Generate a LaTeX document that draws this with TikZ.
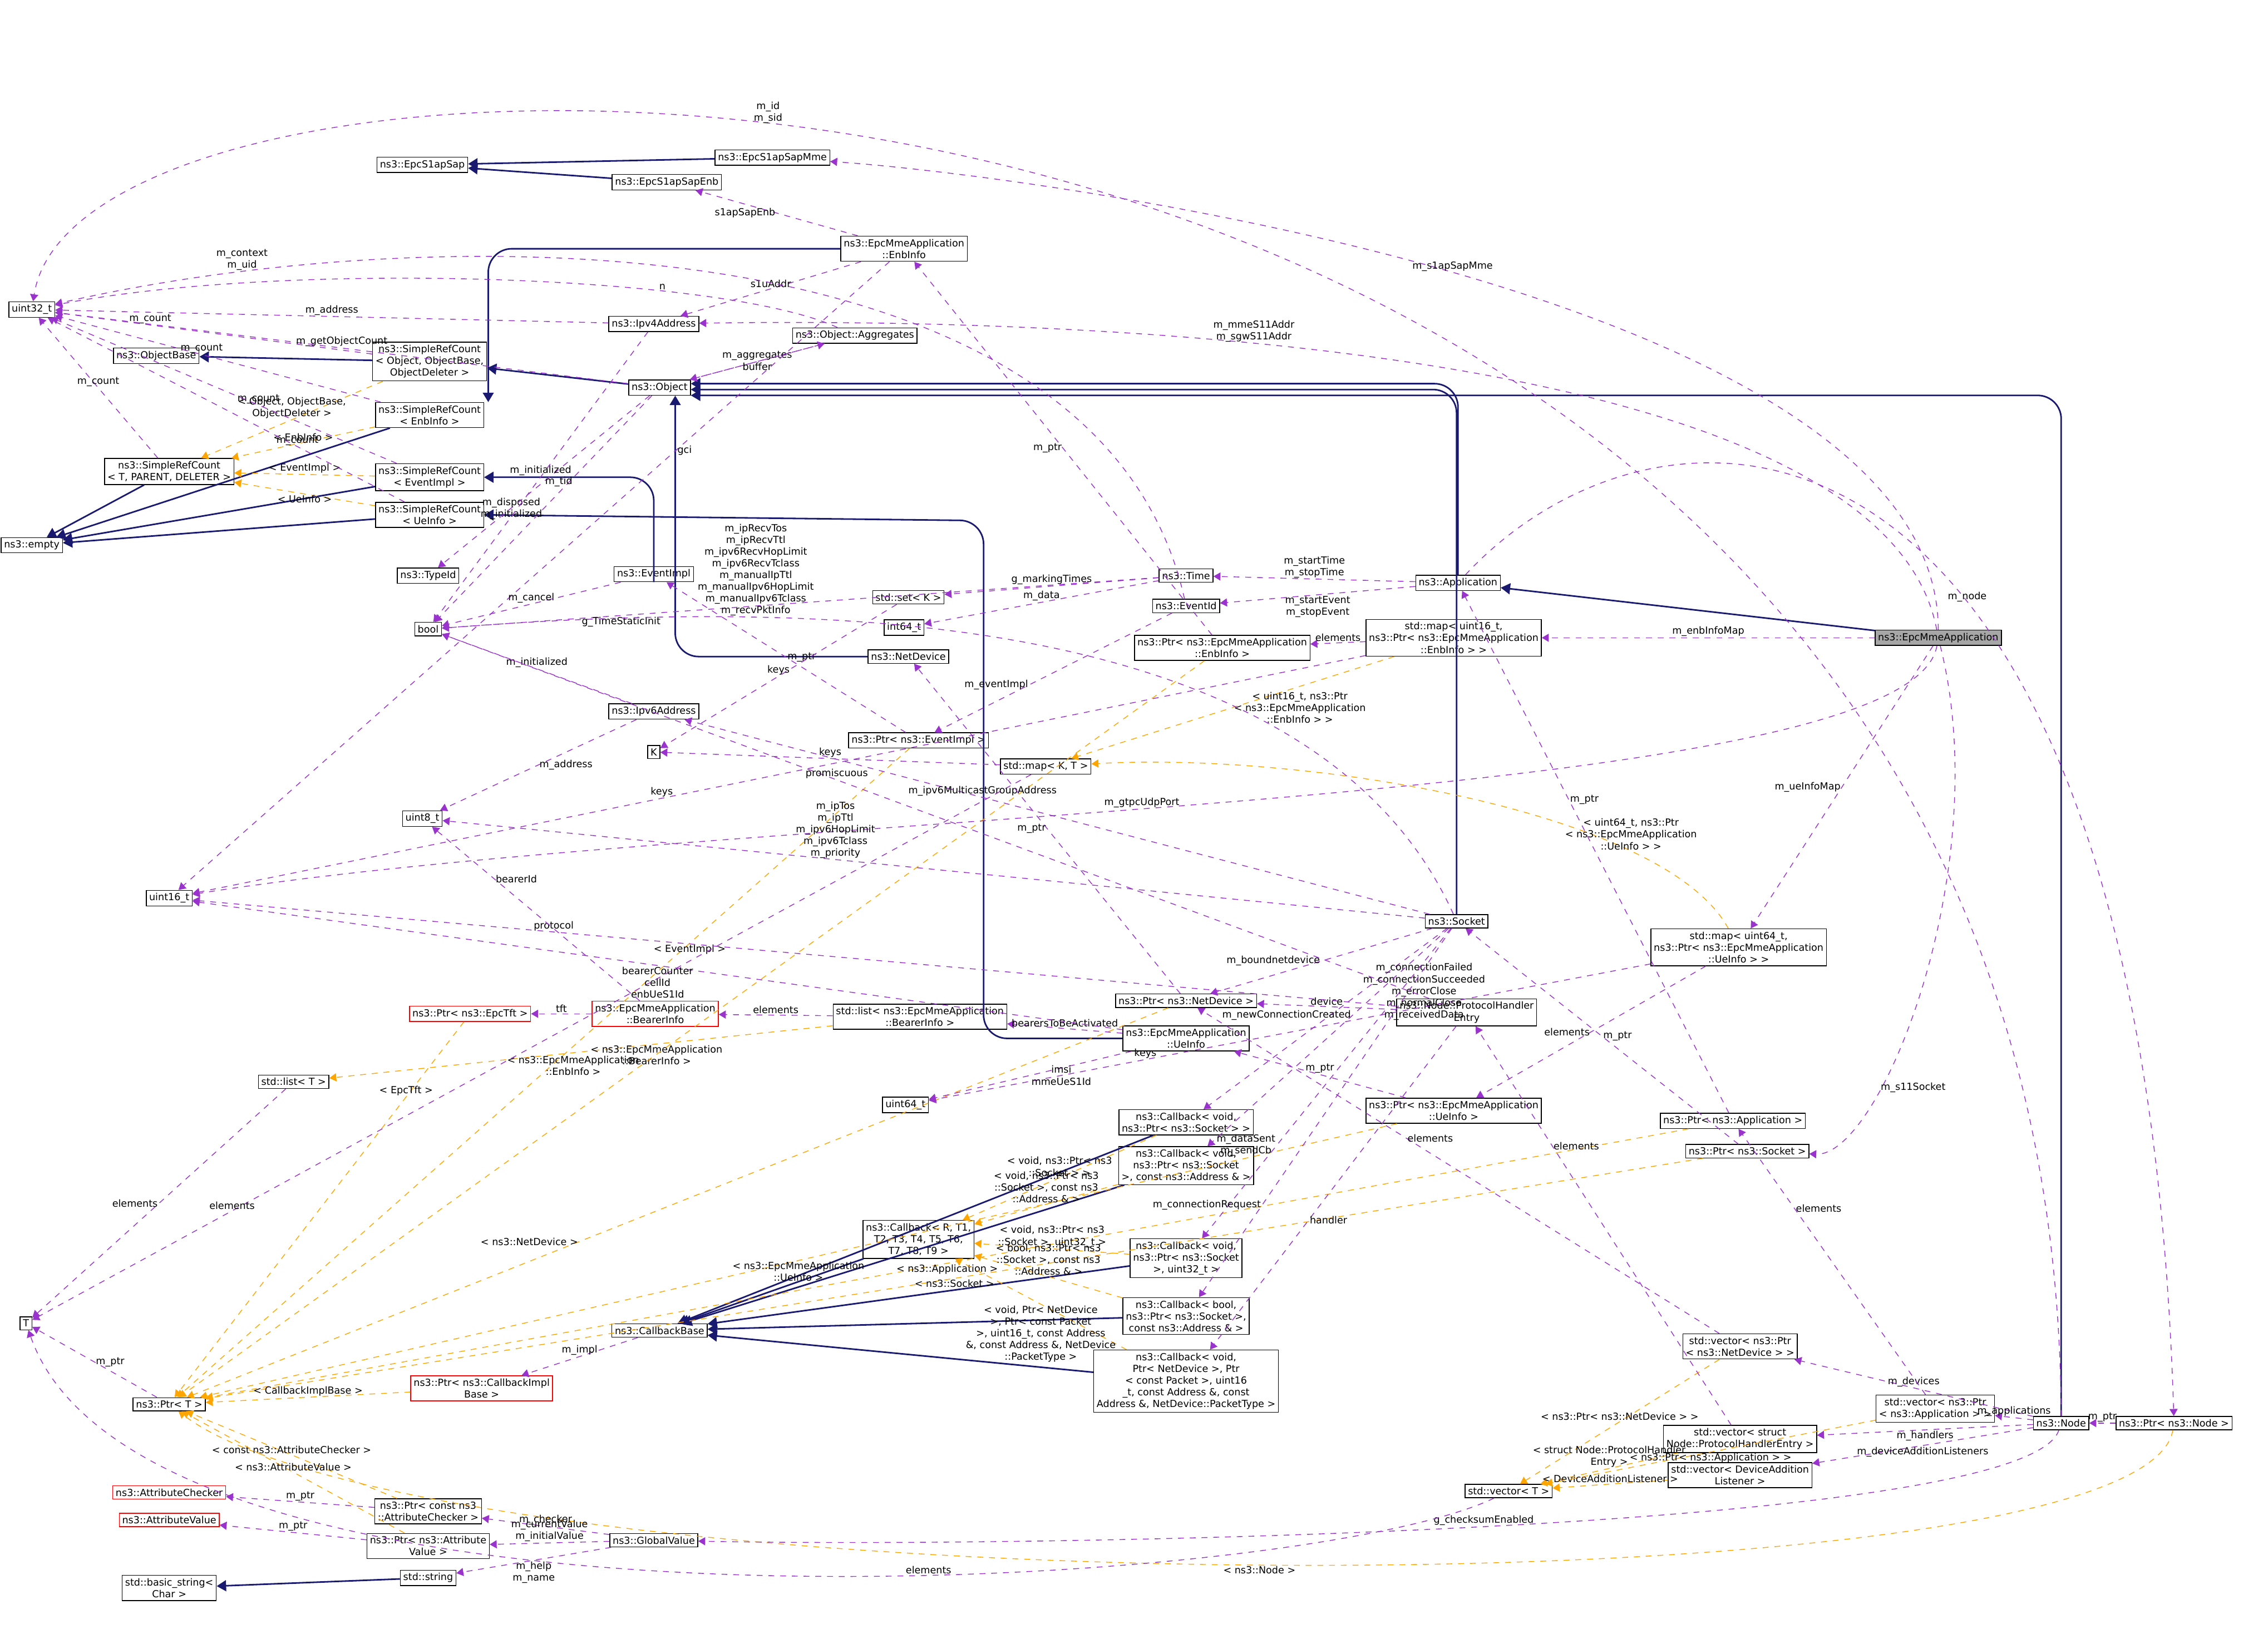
\documentclass[tikz,border=0pt]{standalone}
\usepackage{fontspec}
\setmainfont{DejaVu Sans}
\usetikzlibrary{arrows.meta}
\definecolor{usecol}{HTML}{9A32CD}
\definecolor{tplcol}{HTML}{FFA500}
\definecolor{inhcol}{HTML}{191970}

\begin{document}
\begin{tikzpicture}[x=0.026cm,y=-0.026cm,
  cls/.style={draw,fill=white,font=\fontsize{5}{6}\selectfont,align=center,inner sep=1.5pt},
  redcls/.style={cls,draw=red},
  inh/.style={draw=inhcol,thick,rounded corners=12pt,-{Triangle[open,fill=inhcol]}},
  use/.style={draw=usecol,dashed,-{Triangle[fill=usecol]}},
  tpl/.style={draw=tplcol,dashed,-{Triangle[fill=tplcol]}},
  lbl/.style={font=\fontsize{5}{6}\selectfont,align=center,inner sep=0.5pt,text=black}]
\useasboundingbox (0,0) rectangle (1568,1133);

%classes on the left side
\node[cls] (u32) at (22,214) {uint32\_t};
\node[cls] (objbase) at (108,246) {ns3::ObjectBase};
\node[cls] (srct) at (117,326) {ns3::SimpleRefCount\\< T, PARENT, DELETER >};
\node[cls] (empty) at (22,377) {ns3::empty};
\node[cls] (tt) at (18,915) {T};
\node[cls] (u16) at (117,621) {uint16\_t};
\node[cls] (ptrt) at (117,971) {ns3::Ptr< T >};
\node[redcls] (achk) at (117,1032) {ns3::AttributeChecker};
\node[redcls] (aval) at (117,1051) {ns3::AttributeValue};
\node[cls] (bstr) at (117,1098) {std::basic\_string<\\ Char >};
\node[cls] (srcobj) at (297,250) {ns3::SimpleRefCount\\< Object, ObjectBase,\\ ObjectDeleter >};
\node[cls] (srcenb) at (297,287) {ns3::SimpleRefCount\\< EnbInfo >};
\node[cls] (srcev) at (297,330) {ns3::SimpleRefCount\\< EventImpl >};
\node[cls] (srcue) at (297,356) {ns3::SimpleRefCount\\< UeInfo >};
\node[cls] (typeid) at (296,398) {ns3::TypeId};
\node[cls] (bool) at (296,435) {bool};
\node[cls] (u8) at (292,566) {uint8\_t};
\node[cls] (s1sap) at (292,114) {ns3::EpcS1apSap};
\node[redcls] (ptrtft) at (325,701) {ns3::Ptr< ns3::EpcTft >};
\node[cls] (listt) at (203,748) {std::list< T >};
\node[redcls] (ptrcib) at (333,960) {ns3::Ptr< ns3::CallbackImpl\\Base >};
\node[cls] (ptrachk) at (296,1045) {ns3::Ptr< const ns3\\::AttributeChecker >};
\node[cls] (ptraval) at (296,1069) {ns3::Ptr< ns3::Attribute\\Value >};
\node[cls] (str) at (296,1091) {std::string};

%middle
\node[cls] (s1enb) at (461,126) {ns3::EpcS1apSapEnb};
\node[cls] (s1mme) at (534,109) {ns3::EpcS1apSapMme};
\node[cls] (enbinfo) at (625,172) {ns3::EpcMmeApplication\\::EnbInfo};
\node[cls] (ipv4) at (452,224) {ns3::Ipv4Address};
\node[cls] (aggr) at (591,232) {ns3::Object::Aggregates};
\node[cls] (obj) at (456,268) {ns3::Object};
\node[cls] (evimpl) at (452,397) {ns3::EventImpl};
\node[cls] (ipv6) at (452,492) {ns3::Ipv6Address};
\node[cls] (kk) at (452,520) {K};
\node[redcls] (bearer) at (453,701) {ns3::EpcMmeApplication\\::BearerInfo};
\node[cls] (cbbase) at (456,920) {ns3::CallbackBase};
\node[cls] (gval) at (452,1065) {ns3::GlobalValue};
\node[cls] (setk) at (628,413) {std::set< K >};
\node[cls] (i64) at (625,434) {int64\_t};
\node[cls] (netdev) at (628,454) {ns3::NetDevice};
\node[cls] (ptrev) at (635,512) {ns3::Ptr< ns3::EventImpl >};
\node[cls] (mapkt) at (723,530) {std::map< K, T >};
\node[cls] (listbi) at (636,703) {std::list< ns3::EpcMmeApplication\\::BearerInfo >};
\node[cls] (u64) at (626,764) {uint64\_t};
\node[cls] (cbr) at (635,857) {ns3::Callback< R, T1,\\ T2, T3, T4, T5, T6,\\ T7, T8, T9 >};
\node[cls] (time) at (820,398) {ns3::Time};
\node[cls] (evid) at (820,419) {ns3::EventId};
\node[cls] (ptrenb) at (845,448) {ns3::Ptr< ns3::EpcMmeApplication\\::EnbInfo >};
\node[cls] (ptrnd) at (820,692) {ns3::Ptr< ns3::NetDevice >};
\node[cls] (ueinfo) at (820,718) {ns3::EpcMmeApplication\\::UeInfo};
\node[cls] (cbs) at (820,776) {ns3::Callback< void,\\ ns3::Ptr< ns3::Socket > >};
\node[cls] (cbsa) at (820,806) {ns3::Callback< void,\\ ns3::Ptr< ns3::Socket\\ >, const ns3::Address \& >};
\node[cls] (cbsu) at (820,870) {ns3::Callback< void,\\ ns3::Ptr< ns3::Socket\\ >, uint32\_t >};
\node[cls] (cbba) at (820,910) {ns3::Callback< bool,\\ ns3::Ptr< ns3::Socket >,\\ const ns3::Address \& >};
\node[cls] (cbnd) at (820,955) {ns3::Callback< void,\\ Ptr< NetDevice >, Ptr\\ < const Packet >, uint16\\ \_t, const Address \&, const\\ Address \&, NetDevice::PacketType >};

%right side
\node[cls] (app) at (1008,403) {ns3::Application};
\node[cls] (map16) at (1005,441) {std::map< uint16\_t,\\ ns3::Ptr< ns3::EpcMmeApplication\\::EnbInfo > >};
\node[cls,fill=black!35] (mme) at (1340,441) {ns3::EpcMmeApplication};
\node[cls] (sock) at (1007,637) {ns3::Socket};
\node[cls] (phe) at (1014,700) {ns3::Node::ProtocolHandler\\Entry};
\node[cls] (map64) at (1202,655) {std::map< uint64\_t,\\ ns3::Ptr< ns3::EpcMmeApplication\\::UeInfo > >};
\node[cls] (ptrue) at (1005,768) {ns3::Ptr< ns3::EpcMmeApplication\\::UeInfo >};
\node[cls] (ptrapp) at (1198,775) {ns3::Ptr< ns3::Application >};
\node[cls] (ptrsock) at (1208,796) {ns3::Ptr< ns3::Socket >};
\node[cls] (vecnd) at (1203,931) {std::vector< ns3::Ptr\\< ns3::NetDevice > >};
\node[cls] (vecphe) at (1203,995) {std::vector< struct\\ Node::ProtocolHandlerEntry >};
\node[cls] (vecdal) at (1203,1020) {std::vector< DeviceAddition\\Listener >};
\node[cls] (vecapp) at (1338,974) {std::vector< ns3::Ptr\\< ns3::Application > >};
\node[cls] (node) at (1425,984) {ns3::Node};
\node[cls] (ptrnode) at (1503,984) {ns3::Ptr< ns3::Node >};
\node[cls] (vect) at (1043,1031) {std::vector< T >};

%inheritance
\foreach \a/\b in {s1enb/s1sap,s1mme/s1sap,srcobj/objbase,srct/empty,srcenb/empty,srcev/empty,srcue/empty,
  obj/srcobj,mme/app,cbs/cbbase,cbsa/cbbase,cbsu/cbbase,cbba/cbbase,cbnd/cbbase,cbr/cbbase,str/bstr}
  \draw[inh] (\a) -- (\b);
\draw[inh] (node.north) |- ([yshift=-4pt]obj.east);
\draw[inh] (sock.north) |- ([yshift=-1pt]obj.east);
\draw[inh] (app.north) |- ([yshift=2pt]obj.east);
\draw[inh] (netdev.west) -| ([xshift=8pt]obj.south);
\draw[inh] (enbinfo.west) -| ([xshift=30pt]srcenb.north);
\draw[inh] (evimpl.south) |- (srcev.east);
\draw[inh] (ueinfo.west) -- (680,718) -- (680,360) -- (srcue.east);

%templates
\draw[tpl] (srcobj) -- node[lbl,above]{< Object, ObjectBase,\\ ObjectDeleter >} (srct);
\draw[tpl] (srcenb) -- node[lbl,above]{< EnbInfo >} (srct);
\draw[tpl] (srcev) -- node[lbl,above]{< EventImpl >} (srct);
\draw[tpl] (srcue) -- node[lbl,below]{< UeInfo >} (srct);
\draw[tpl] (map16) -- node[lbl,right]{< uint16\_t, ns3::Ptr\\< ns3::EpcMmeApplication\\::EnbInfo > >} (mapkt);
\draw[tpl] (map64) .. controls (1150,560) and (900,520) .. node[lbl,above,pos=0.25]{< uint64\_t, ns3::Ptr\\< ns3::EpcMmeApplication\\::UeInfo > >} (mapkt);
\draw[tpl] (listbi) -- node[lbl,below,pos=0.35]{< ns3::EpcMmeApplication\\::BearerInfo >} (listt);
\draw[tpl] (ptrtft) -- node[lbl,above,pos=0.2]{< EpcTft >} (ptrt);
\draw[tpl] (ptrev) -- node[lbl,below,pos=0.3]{< EventImpl >} (ptrt);
\draw[tpl] (ptrenb) -- node[lbl,left,pos=0.55]{< ns3::EpcMmeApplication\\::EnbInfo >} (ptrt);
\draw[tpl] (ptrnd) -- node[lbl,left,pos=0.6]{< ns3::NetDevice >} (ptrt);
\draw[tpl] (ptrue) -- node[lbl,below,pos=0.5]{< ns3::EpcMmeApplication\\::UeInfo >} (ptrt);
\draw[tpl] (ptrapp) -- node[lbl,below,pos=0.5]{< ns3::Application >} (ptrt);
\draw[tpl] (ptrsock) -- node[lbl,below,pos=0.5]{< ns3::Socket >} (ptrt);
\draw[tpl] (ptrnode) .. controls (1480,1120) and (300,1110) .. node[lbl,below,pos=0.5]{< ns3::Node >} (ptrt);
\draw[tpl] (ptrcib) -- node[lbl,above]{< CallbackImplBase >} (ptrt);
\draw[tpl] (ptrachk) -- node[lbl,above]{< const ns3::AttributeChecker >} (ptrt);
\draw[tpl] (ptraval) -- node[lbl,above]{< ns3::AttributeValue >} (ptrt);
\draw[tpl] (cbs) -- node[lbl,above]{< void, ns3::Ptr< ns3\\::Socket > >} (cbr);
\draw[tpl] (cbsa) -- node[lbl,above]{< void, ns3::Ptr< ns3\\::Socket >, const ns3\\::Address \& >} (cbr);
\draw[tpl] (cbsu) -- node[lbl,above]{< void, ns3::Ptr< ns3\\::Socket >, uint32\_t >} (cbr);
\draw[tpl] (cbba) -- node[lbl,above]{< bool, ns3::Ptr< ns3\\::Socket >, const ns3\\::Address \& >} (cbr);
\draw[tpl] (cbnd) -- node[lbl,below]{< void, Ptr< NetDevice\\ >, Ptr< const Packet\\ >, uint16\_t, const Address\\ \&, const Address \&, NetDevice\\::PacketType >} (cbr);
\draw[tpl] (vecnd) -- node[lbl,above]{< ns3::Ptr< ns3::NetDevice > >} (vect);
\draw[tpl] (vecphe) -- node[lbl,above]{< struct Node::ProtocolHandler\\Entry >} (vect);
\draw[tpl] (vecdal) -- node[lbl,above]{< DeviceAdditionListener >} (vect);
\draw[tpl] (vecapp) -- node[lbl,below]{< ns3::Ptr< ns3::Application > >} (vect);

%members
\foreach \a/\p in {srct/0.5,srcobj/0.7,srcenb/0.55,srcev/0.4,srcue/0.3}
  \draw[use] (\a) -- node[lbl,above,pos=\p]{m\_count} (u32);
\draw[use] (obj) -- node[lbl,above]{m\_getObjectCount} (u32);
\draw[use] (obj) -- node[lbl,left]{m\_disposed\\m\_initialized} (bool);
\draw[use] (obj) -- node[lbl,right]{m\_tid} (typeid);
\draw[use] (obj) -- node[lbl,above]{m\_aggregates} (aggr);
\draw[use] (aggr) -- node[lbl,below]{buffer} (obj);
\draw[use] (aggr) .. controls (500,190) and (200,180) .. node[lbl,above,pos=0.3]{n} (u32);
\draw[use] (enbinfo) -- node[lbl,left]{s1apSapEnb} (s1enb);
\draw[use] (enbinfo) -- node[lbl,above]{s1uAddr} (ipv4);
\draw[use] (enbinfo) -- node[lbl,right,pos=0.3]{gci} (u16);
\draw[use] (ipv4) -- node[lbl,above]{m\_address} (u32);
\draw[use] (ipv4) -- node[lbl,above]{m\_initialized} (bool);
\draw[use] (ipv6) -- node[lbl,right]{m\_address} (u8);
\draw[use] (ipv6) -- node[lbl,above]{m\_initialized} (bool);
\draw[use] (evimpl) -- node[lbl,above]{m\_cancel} (bool);
\draw[use] (time) -- node[lbl,above]{g\_markingTimes} (setk);
\draw[use] (time) -- node[lbl,above]{m\_data} (i64);
\draw[use] (time) -- node[lbl,below,pos=0.75]{g\_TimeStaticInit} (bool);
\draw[use] (evid) -- node[lbl,left,pos=0.6]{m\_eventImpl} (ptrev);
\draw[use] (evid) .. controls (760,150) and (300,150) .. node[lbl,above,pos=0.85]{m\_context\\m\_uid} (u32);
\draw[use] (ptrev) -- node[lbl,right]{m\_ptr} (evimpl);
\draw[use] (setk) -- node[lbl,above]{keys} (kk);
\draw[use] (mapkt) -- node[lbl,above]{keys} (kk);
\draw[use] (mapkt) -- node[lbl,above,pos=0.8]{elements} (tt);
\draw[use] (ptrenb) -- node[lbl,left]{m\_ptr} (enbinfo);
\draw[use] (map16) -- node[lbl,above]{elements} (ptrenb);
\draw[use] (map16) -- node[lbl,above,pos=0.6]{keys} (u16);
\draw[use] (map64) -- node[lbl,left]{elements} (ptrue);
\draw[use] (map64) -- node[lbl,above,pos=0.7]{keys} (u64);
\draw[use] (app) -- node[lbl,above]{m\_startTime\\m\_stopTime} (time);
\draw[use] (app) -- node[lbl,below]{m\_startEvent\\m\_stopEvent} (evid);
\draw[use] (app) .. controls (1150,250) and (1480,250) .. node[lbl,above,pos=0.6]{m\_node} (ptrnode);
\draw[use] (mme) .. controls (1340,200) and (700,120) .. node[lbl,above,pos=0.5]{m\_s1apSapMme} (s1mme);
\draw[use] (mme) .. controls (1300,230) and (700,220) .. node[lbl,above,pos=0.6]{m\_mmeS11Addr\\m\_sgwS11Addr} (ipv4);
\draw[use] (mme) -- node[lbl,above]{m\_enbInfoMap} (map16);
\draw[use] (mme) -- node[lbl,left]{m\_ueInfoMap} (map64);
\draw[use] (mme) .. controls (1380,600) and (1300,800) .. node[lbl,right,pos=0.7]{m\_s11Socket} (ptrsock);
\draw[use] (mme) .. controls (1320,560) and (500,560) .. node[lbl,above,pos=0.55]{m\_gtpcUdpPort} (u16);
\draw[use] (sock) -- node[lbl,left]{m\_boundnetdevice} (ptrnd);
\draw[use] (sock) -- node[lbl,above,pos=0.6]{m\_ipTos\\m\_ipTtl\\m\_ipv6HopLimit\\m\_ipv6Tclass\\m\_priority} (u8);
\draw[use] (sock) .. controls (900,400) and (500,420) .. node[lbl,above,pos=0.7]{m\_ipRecvTos\\m\_ipRecvTtl\\m\_ipv6RecvHopLimit\\m\_ipv6RecvTclass\\m\_manualIpTtl\\m\_manualIpv6HopLimit\\m\_manualIpv6Tclass\\m\_recvPktInfo} (bool);
\draw[use] (sock) -- node[lbl,above,pos=0.6]{m\_ipv6MulticastGroupAddress} (ipv6);
\draw[use] (sock) -- node[lbl,right,pos=0.35]{m\_connectionFailed\\m\_connectionSucceeded\\m\_errorClose\\m\_normalClose\\m\_receivedData} (cbs);
\draw[use] (sock) -- node[lbl,left,pos=0.4]{m\_newConnectionCreated} (cbsa);
\draw[use] (sock) -- node[lbl,left,pos=0.7]{m\_dataSent\\m\_sendCb} (cbsu);
\draw[use] (sock) -- node[lbl,left,pos=0.75]{m\_connectionRequest} (cbba);
\draw[use] (ptrnd) -- node[lbl,left]{m\_ptr} (netdev);
\draw[use] (ptrsock) -- node[lbl,right]{m\_ptr} (sock);
\draw[use] (ptrapp) -- node[lbl,right,pos=0.6]{m\_ptr} (app);
\draw[use] (ptrnode) -- node[lbl,above]{m\_ptr} (node);
\draw[use] (ptrue) -- node[lbl,above]{m\_ptr} (ueinfo);
\draw[use] (phe) -- node[lbl,above]{device} (ptrnd);
\draw[use] (phe) -- node[lbl,above,pos=0.6]{promiscuous} (bool);
\draw[use] (phe) -- node[lbl,above,pos=0.7]{protocol} (u16);
\draw[use] (phe) -- node[lbl,right,pos=0.6]{handler} (cbnd);
\draw[use] (ueinfo) -- node[lbl,right]{imsi\\mmeUeS1Id} (u64);
\draw[use] (ueinfo) -- node[lbl,above]{bearersToBeActivated} (listbi);
\draw[use] (ueinfo) -- node[lbl,below,pos=0.5]{bearerCounter\\cellId\\enbUeS1Id} (u16);
\draw[use] (listbi) -- node[lbl,above]{elements} (bearer);
\draw[use] (listt) -- node[lbl,left]{elements} (tt);
\draw[use] (bearer) -- node[lbl,above]{tft} (ptrtft);
\draw[use] (bearer) -- node[lbl,right,pos=0.7]{bearerId} (u8);
\draw[use] (ptrt) -- node[lbl,right]{m\_ptr} (tt);
\draw[use] (cbbase) -- node[lbl,above]{m\_impl} (ptrcib);
\draw[use] (ptrachk) -- node[lbl,above]{m\_ptr} (achk);
\draw[use] (ptraval) -- node[lbl,above]{m\_ptr} (aval);
\draw[use] (gval) -- node[lbl,above]{m\_checker} (ptrachk);
\draw[use] (gval) -- node[lbl,above]{m\_currentValue\\m\_initialValue} (ptraval);
\draw[use] (gval) -- node[lbl,below]{m\_help\\m\_name} (str);
\draw[use] (node) .. controls (1400,1060) and (700,1070) .. node[lbl,above]{g\_checksumEnabled} (gval);
\draw[use] (node) -- node[lbl,above]{m\_devices} (vecnd);
\draw[use] (node) -- node[lbl,above]{m\_applications} (vecapp);
\draw[use] (node) -- node[lbl,below]{m\_handlers} (vecphe);
\draw[use] (node) -- node[lbl,below]{m\_deviceAdditionListeners} (vecdal);
\draw[use] (node) .. controls (1420,-30) and (60,-30) .. node[lbl,above,pos=0.6]{m\_id\\m\_sid} (u32);
\draw[use] (vect) .. controls (900,1100) and (100,1150) .. node[lbl,above,pos=0.4]{elements} (tt);
\draw[use] (vecnd) -- node[lbl,right,pos=0.6]{elements} (ptrnd);
\draw[use] (vecapp) -- node[lbl,right,pos=0.7]{elements} (ptrapp);
\draw[use] (vecphe) -- node[lbl,right,pos=0.7]{elements} (phe);
\end{tikzpicture}
\end{document}
